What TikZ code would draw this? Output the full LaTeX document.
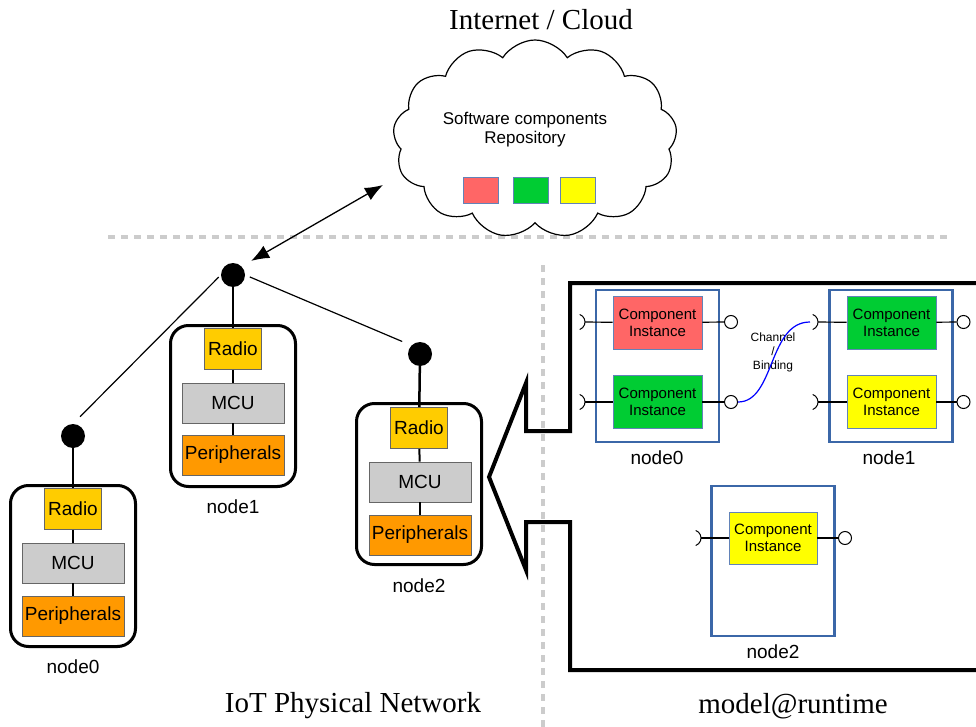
\documentclass[tikz,border=0pt]{standalone}
\usepackage{fontspec}
\setmainfont{Liberation Sans}
\newfontfamily\titlefont{Liberation Serif}
\usetikzlibrary{shapes.symbols,arrows.meta,positioning}

\definecolor{radiocol}{HTML}{FFCC00}
\definecolor{mcucol}{HTML}{CCCCCC}
\definecolor{periphcol}{HTML}{FF9900}
\definecolor{compred}{HTML}{FF6666}
\definecolor{compgreen}{HTML}{00CC33}
\definecolor{compyellow}{HTML}{FFFF00}
\definecolor{hostblue}{HTML}{3B67A8}
\definecolor{edgeblue}{HTML}{6283B8}
\definecolor{sepgray}{HTML}{CCCCCC}

\tikzset{
  hwbox/.style={draw=black!60, line width=0.8pt, inner sep=0pt, font=\fontsize{19}{21}\selectfont},
  radio/.style={hwbox, fill=radiocol, minimum width=57pt, minimum height=41pt},
  mcu/.style={hwbox, fill=mcucol, minimum width=102pt, minimum height=40pt},
  periph/.style={hwbox, fill=periphcol, minimum width=102pt, minimum height=40pt},
  devbox/.style={draw, line width=3pt, rounded corners=18pt, minimum width=125pt, minimum height=161pt},
  netdot/.style={circle, fill=black, minimum size=24pt, inner sep=0pt},
  biglabel/.style={font=\fontsize{19}{21}\selectfont},
  titletext/.style={font=\titlefont\fontsize{29}{31}\selectfont},
  container/.style={draw=hostblue, line width=2.5pt, minimum width=123pt, minimum height=152pt},
  compinst/.style={draw=edgeblue, line width=0.9pt, minimum width=89pt, minimum height=53pt, inner sep=0pt, align=center, font=\fontsize{15}{17}\selectfont},
  repobox/.style={draw=edgeblue, line width=0.9pt, minimum width=35pt, minimum height=26pt, inner sep=0pt},
  provport/.style={circle, draw, fill=white, line width=1pt, minimum size=13pt, inner sep=0pt},
  portline/.style={line width=1.2pt},
  socket/.pic={\draw[line width=1pt] (-70:8) arc[start angle=-70, end angle=70, radius=8];},
  separator/.style={draw=sepgray, line width=4pt, dash pattern=on 7pt off 6pt}
}

\begin{document}
\begin{tikzpicture}[x=1pt, y=-1pt]
  \useasboundingbox (0,0) rectangle (976,727);

  % separators
  \draw[separator] (108,237) -- (948,237);
  \draw[separator] (543,265) -- (543,727);

  % titles
  \node[titletext] (cloudtitle) at (541,20) {Internet / Cloud};
  \node[titletext] (iottitle) at (353,706) {IoT Physical Network};
  \node[titletext] (mrttitle) at (793,706) {model@runtime};

  % cloud with the repository
  \node[cloud, draw, line width=1.2pt, cloud puffs=13, cloud puff arc=115, aspect=1.5,
        minimum width=284pt, minimum height=198pt] (cloud) at (535,139) {};
  \node[align=center, font=\fontsize{17}{19}\selectfont] (repotext) at (525,130) {Software components\\Repository};
  \node[repobox, fill=compred] (repo1) at (480.5,190) {};
  \node[repobox, fill=compgreen] (repo2) at (530.5,190) {};
  \node[repobox, fill=compyellow] (repo3) at (577.5,190) {};

  % physical network
  \node[netdot] (top) at (233,275) {};
  \coordinate (cloudtip) at (383,185);

  \begin{scope}[shift={(73,436)}]
    \node[netdot] (dot0) at (0,0) {};
    \node[devbox] (dev0) at (0,130) {};
    \node[radio] (radio0) at (0,73) {Radio};
    \node[mcu] (mcu0) at (0,127) {MCU};
    \node[periph] (per0) at (0,180) {Peripherals};
    \node[biglabel] (lab0) at (0,231) {node0};
  \end{scope}

  \begin{scope}[shift={(233,275)}]
    \node[devbox] (dev1) at (0,131) {};
    \node[radio] (radio1) at (0,74) {Radio};
    \node[mcu] (mcu1) at (0,128) {MCU};
    \node[periph] (per1) at (0,180) {Peripherals};
    \node[biglabel] (lab1) at (0,232) {node1};
  \end{scope}

  \begin{scope}[shift={(420,354)}]
    \node[netdot] (dot2) at (0,0) {};
    \node[devbox] (dev2) at (-1,130) {};
    \node[radio] (radio2) at (-1,74) {Radio};
    \node[mcu] (mcu2) at (0,128) {MCU};
    \node[periph] (per2) at (0,181) {Peripherals};
    \node[biglabel] (lab2) at (-1,232) {node2};
  \end{scope}

  \foreach \i/\d in {0/dot0, 1/top, 2/dot2} {
    \draw[line width=2.5pt] (\d) -- (radio\i);
    \draw[line width=2pt] (radio\i) -- (mcu\i);
    \draw[line width=2pt] (mcu\i) -- (per\i);
  }

  \draw[line width=1.2pt, shorten <=3pt, shorten >=10pt] (top.west) -- (dot0.north);
  \draw[line width=1.2pt, shorten <=5pt, shorten >=10pt] (top.east) -- (dot2.north west);
  \draw[{Latex[length=18pt,width=14pt]}-{Latex[length=18pt,width=14pt]}, line width=1.3pt, shorten <=11pt]
    (top.north east) -- (cloudtip);

  % model@runtime panel
  \draw[line width=4pt, line join=miter] (976,283) -- (570,283) -- (570,431) -- (526,431) -- (526,383)
    -- (489,477) -- (526,570) -- (526,522) -- (570,522) -- (570,670) -- (976,670);

  \node[container] (host0) at (657.5,366) {};
  \node[container] (host1) at (891,366) {};
  \node[container, minimum height=150pt] (host2) at (773,561) {};
  \node[biglabel] (hostlab0) at (657,458) {node0};
  \node[biglabel] (hostlab1) at (889,458) {node1};
  \node[biglabel] (hostlab2) at (773,652) {node2};

  \node[compinst, fill=compred] (ci0a) at (657.5,322.5) {Component\\Instance};
  \node[compinst, fill=compgreen] (ci0b) at (657.5,402) {Component\\Instance};
  \node[compinst, fill=compgreen] (ci1a) at (891.5,322.5) {Component\\Instance};
  \node[compinst, fill=compyellow] (ci1b) at (891.5,402) {Component\\Instance};
  \node[compinst, fill=compyellow, minimum width=88pt, minimum height=52pt] (ci2a) at (773,538) {Component\\Instance};

  % ports
  \node[provport] (p0a) at (731,322) {};
  \node[provport] (p0b) at (731,402) {};
  \node[provport] (p1a) at (963.5,322) {};
  \node[provport] (p1b) at (963.5,402) {};
  \node[provport] (p2a) at (845,538) {};
  \coordinate (s0a) at (577,322);
  \coordinate (s0b) at (577,402);
  \coordinate (s1a) at (810,322);
  \coordinate (s1b) at (810,402);
  \coordinate (s2a) at (693,538);

  \foreach \p in {0a,0b,1a,1b,2a} {
    \pic at (s\p) {socket};
    \draw[portline, shorten <=8pt] (s\p) -- (ci\p);
    \draw[portline] (ci\p) -- (p\p);
  }

  \node[align=center, font=\fontsize{12}{14}\selectfont] (chan) at (773,352) {Channel\\/\\Binding};
  \draw[blue, line width=1.2pt] (p0b.east) .. controls (775,402) and (768,322) .. (s1a);
\end{tikzpicture}
\end{document}
